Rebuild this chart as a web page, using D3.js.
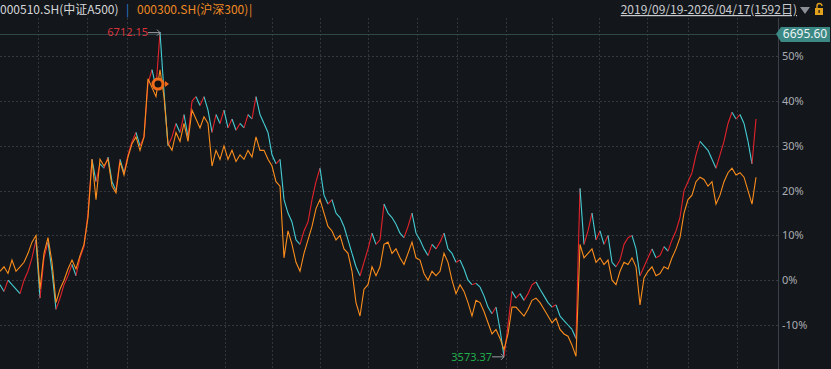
<!DOCTYPE html>
<html>
<head>
<meta charset="utf-8">
<script src="https://cdn.jsdelivr.net/npm/d3@7"></script>
<style>
body { margin: 0; background: #13161b; overflow: hidden; }
text { font-family: "Noto Sans CJK SC", "Noto Sans", sans-serif; }
</style>
</head>
<body>
<script>
// 000510.SH 中证A500, % change from 2019/09/19 (~4px apart)
var a500 = [
    -1, -2.5, 0, -1, -2, -3, 0, 2, 5, 9,
    -4, 5, 8.5, 2, -6.5, -4, -1, 1, 3.5, 1,
    5, 7.5, 15, 27, 22, 26, 25, 27.5, 22, 20,
    27, 24, 28, 31, 33, 30, 32, 44, 47, 43,
    55.4, 42, 30, 32, 35, 33, 37, 32, 40, 41,
    39, 41, 38, 33, 37, 35, 38, 34, 36, 33.5,
    35, 34, 37, 36, 41, 37, 35, 33, 28, 26,
    27, 18, 15, 13, 9, 8, 11, 13, 18, 22,
    25, 19, 17, 18, 15, 14, 12, 9, 6, 3,
    1, 4, 7, 10.5, 8, 9, 17, 15, 14, 12.5,
    10.5, 9.5, 12, 15, 10.5, 9, 7, 5.5, 8, 7,
    8.5, 10.5, 7, 6, 4, 4.5, 2.5, 0, -1, -0.7,
    -1.5, -3.5, -6, -7.5, -6, -11, -17, -10, -2.5, -4,
    -3, -4.5, -3, -1, -0.4, -2, -3.5, -5, -6, -5.5,
    -8, -9, -10, -11, -13, 20.5, 8, 11, 15, 9,
    11, 8, 10, 4, 3, 4.5, 8, 9.5, 10, 7,
    1, 3, 5, 7, 5, 5.5, 7.5, 6.5, 9, 11,
    14, 20, 22, 24, 28, 31, 30, 29, 27, 25,
    28, 31, 35, 37.5, 36, 37, 35, 31, 26, 36
];

// 000300.SH 沪深300
var hs300 = [
    2, 3, 1.5, 4.5, 2, 3, 4, 6, 8.5, 10,
    -2, 6, 9.5, 4, -5, -2, 0, 2.5, 4.5, 2.5,
    5.5, 8, 14, 27, 18, 27, 25.5, 27, 21, 19.5,
    26.5, 23.5, 27.5, 30.5, 32, 29, 32, 45, 43, 41,
    47, 41, 30.5, 29, 33, 31, 35, 31, 38, 36,
    34, 36.5, 35, 25.5, 29, 27, 30, 27, 29, 26.5,
    28, 27, 29, 27.5, 32, 29, 29, 27, 25.5, 22,
    21, 5, 11, 8, 4, 2, 6, 9, 12, 16,
    18, 15, 12, 11, 9, 10, 7, 6, 2, -5,
    -8, -2, -1, 3, 1, 3, 8, 8.5, 6, 7,
    5, 3.5, 6, 8.5, 5, 4.5, 1.5, 0, 2, 1,
    2, 6, 4, 0, -3, -1, -2.5, -5, -8, -4.5,
    -5, -7, -9.5, -12, -11, -13, -15.5, -12, -6, -6,
    -7, -8, -6.5, -4.5, -4, -5, -6.5, -8, -9.5, -8.5,
    -11, -12, -12.5, -14.5, -17, 8, 5, 6, 7, 4,
    5, 3.5, 4.5, 0, -1, 2, 4, 3.5, 5, 3,
    -5.5, 0.5, 2, 3, 1, 1.5, 3, 2.5, 5, 7,
    9.5, 15, 18, 19, 22, 23, 22.5, 21, 22, 17,
    19, 22, 24, 25, 23.5, 24, 23, 20, 17, 23
];

var yTicks = [50, 40, 30, 20, 10, 0, -10];
// vertical grid positions, in data index units
var gridIdx = [9.5, 21.75, 31.75, 56.25, 68, 80, 92, 104.25, 114.25, 126.5, 138, 149.75, 161.75, 172, 184.25];

var nameA = "000510.SH(中证A500)";
var nameB = "000300.SH(沪深300)";
var rangeText = "2019/09/19-2026/04/17(1592日)";
var hiText = "6712.15";
var loText = "3573.37";
var lastText = "6695.60";
var lastPct = 55;      // level of the 6695.60 line
var markPct = 43.8;    // orange marker
var markIdx = 39.5;

var w = 831, h = 369;
var axisX = 778;

var svg = d3.select("body").append("svg")
    .attr("width", w)
    .attr("height", h);

var x = d3.scaleLinear().domain([0, a500.length - 1]).range([0, 756]);
var y = d3.scaleLinear().domain([-10, 50]).range([325, 56.3]);

// grid
svg.selectAll(".hg").data(yTicks).enter().append("line")
    .attr("x1", 0).attr("x2", axisX)
    .attr("y1", function(d){ return Math.round(y(d)) + 0.5; })
    .attr("y2", function(d){ return Math.round(y(d)) + 0.5; })
    .attr("stroke", "#363940").attr("stroke-dasharray", "2,2");

svg.selectAll(".vg").data(gridIdx).enter().append("line")
    .attr("x1", function(d){ return Math.round(x(d)) + 0.5; })
    .attr("x2", function(d){ return Math.round(x(d)) + 0.5; })
    .attr("y1", 18).attr("y2", h)
    .attr("stroke", "#33363d").attr("stroke-dasharray", "2,2");

// level line
svg.append("line")
    .attr("x1", 0).attr("x2", axisX)
    .attr("y1", Math.round(y(lastPct)) + 0.5).attr("y2", Math.round(y(lastPct)) + 0.5)
    .attr("stroke", "#2d4846");

// 000510 - red when rising, cyan when falling
svg.append("g").selectAll("line").data(d3.range(1, a500.length)).enter().append("line")
    .attr("x1", function(i){ return x(i - 1); })
    .attr("x2", function(i){ return x(i); })
    .attr("y1", function(i){ return y(a500[i - 1]); })
    .attr("y2", function(i){ return y(a500[i]); })
    .attr("stroke", function(i){ return a500[i] >= a500[i - 1] ? "#e3232b" : "#44cdd3"; })
    .attr("stroke-width", 1.1);

// 000300
var lineB = d3.line()
    .x(function(d, i){ return x(i); })
    .y(function(d){ return y(d); });

svg.append("path")
    .datum(hs300)
    .attr("d", lineB)
    .attr("fill", "none")
    .attr("stroke", "#fa8d1c")
    .attr("stroke-width", 1.1);

// y axis
var yAxis = d3.axisRight(y)
    .tickValues(yTicks)
    .tickSize(0)
    .tickPadding(4)
    .tickFormat(function(d){ return d + "%"; });

var ax = svg.append("g")
    .attr("transform", "translate(" + axisX + ",0)")
    .call(yAxis);
ax.select(".domain").remove();
ax.selectAll("text")
    .attr("fill", "#a9acb2")
    .style("font-size", "11px")
    .style("font-family", "'Noto Sans', sans-serif");

svg.append("line")
    .attr("x1", axisX + 0.5).attr("x2", axisX + 0.5)
    .attr("y1", 18).attr("y2", h)
    .attr("stroke", "#3d4048");

// last value tag
var ly = y(lastPct);
svg.append("polygon")
    .attr("points", [[776, ly], [781, ly - 7], [830, ly - 7], [830, ly + 8], [781, ly + 8]].join(" "))
    .attr("fill", "#3b8884");
svg.append("text")
    .attr("x", 805).attr("y", ly + 4.5)
    .attr("text-anchor", "middle")
    .attr("fill", "#eef5f4")
    .style("font-size", "12px")
    .style("font-family", "'Noto Sans', sans-serif")
    .text(lastText);

// high / low labels
var hiI = a500.indexOf(d3.max(a500));
var loI = a500.indexOf(d3.min(a500));

function arrow(x0, x1, yy) {
    svg.append("line")
        .attr("x1", x0).attr("x2", x1).attr("y1", yy).attr("y2", yy)
        .attr("stroke", "#9a9da3");
    svg.append("path")
        .attr("d", "M" + (x1 - 3) + "," + (yy - 3) + "L" + x1 + "," + yy + "L" + (x1 - 3) + "," + (yy + 3))
        .attr("fill", "none")
        .attr("stroke", "#9a9da3");
}

arrow(x(hiI) - 12, x(hiI), y(a500[hiI]) + 0.5);
svg.append("text")
    .attr("x", x(hiI) - 12).attr("y", y(a500[hiI]) + 4)
    .attr("text-anchor", "end")
    .attr("fill", "#d9343c")
    .style("font-size", "11px")
    .style("font-family", "'Noto Sans', sans-serif")
    .text(hiText);

arrow(x(loI) - 12, x(loI), y(a500[loI]) + 0.5);
svg.append("text")
    .attr("x", x(loI) - 12).attr("y", y(a500[loI]) + 4.5)
    .attr("text-anchor", "end")
    .attr("fill", "#1fae4a")
    .style("font-size", "11px")
    .style("font-family", "'Noto Sans', sans-serif")
    .text(loText);

// orange marker
var mx = x(markIdx), my = y(markPct);
svg.append("circle").attr("cx", mx).attr("cy", my).attr("r", 5)
    .attr("fill", "#111").attr("stroke", "#f06a1a").attr("stroke-width", 3);
svg.append("path")
    .attr("d", "M" + (mx + 7) + "," + (my - 3) + "L" + (mx + 11) + "," + my + "L" + (mx + 7) + "," + (my + 3) + "Z")
    .attr("fill", "#f06a1a");

// header
svg.append("text").attr("x", 0).attr("y", 14)
    .attr("fill", "#d6d7d9").style("font-size", "12px")
    .text(nameA);
svg.append("text").attr("x", 126).attr("y", 14)
    .attr("fill", "#2f7fd6").style("font-size", "12px").text("|");
svg.append("text").attr("x", 137).attr("y", 14)
    .attr("fill", "#f08a24").style("font-size", "12px")
    .text(nameB);
svg.append("text").attr("x", 249).attr("y", 14)
    .attr("fill", "#f08a24").style("font-size", "12px").text("|");

svg.append("text").attr("x", 797).attr("y", 14)
    .attr("text-anchor", "end")
    .attr("fill", "#c9cbce").style("font-size", "12px")
    .style("text-decoration", "underline")
    .text(rangeText);

svg.append("path").attr("d", "M800,7L810,7L805,14Z").attr("fill", "#8c8f95");

// lock icon
svg.append("rect").attr("x", 815).attr("y", 8).attr("width", 8).attr("height", 7).attr("fill", "#e4a11b");
svg.append("path").attr("d", "M817,8V6a2.5,2.5 0 0 1 5,0")
    .attr("fill", "none").attr("stroke", "#e4a11b").attr("stroke-width", 1.4);
svg.append("rect").attr("x", 818.5).attr("y", 10).attr("width", 1.2).attr("height", 3).attr("fill", "#13161b");
</script>
</body>
</html>
